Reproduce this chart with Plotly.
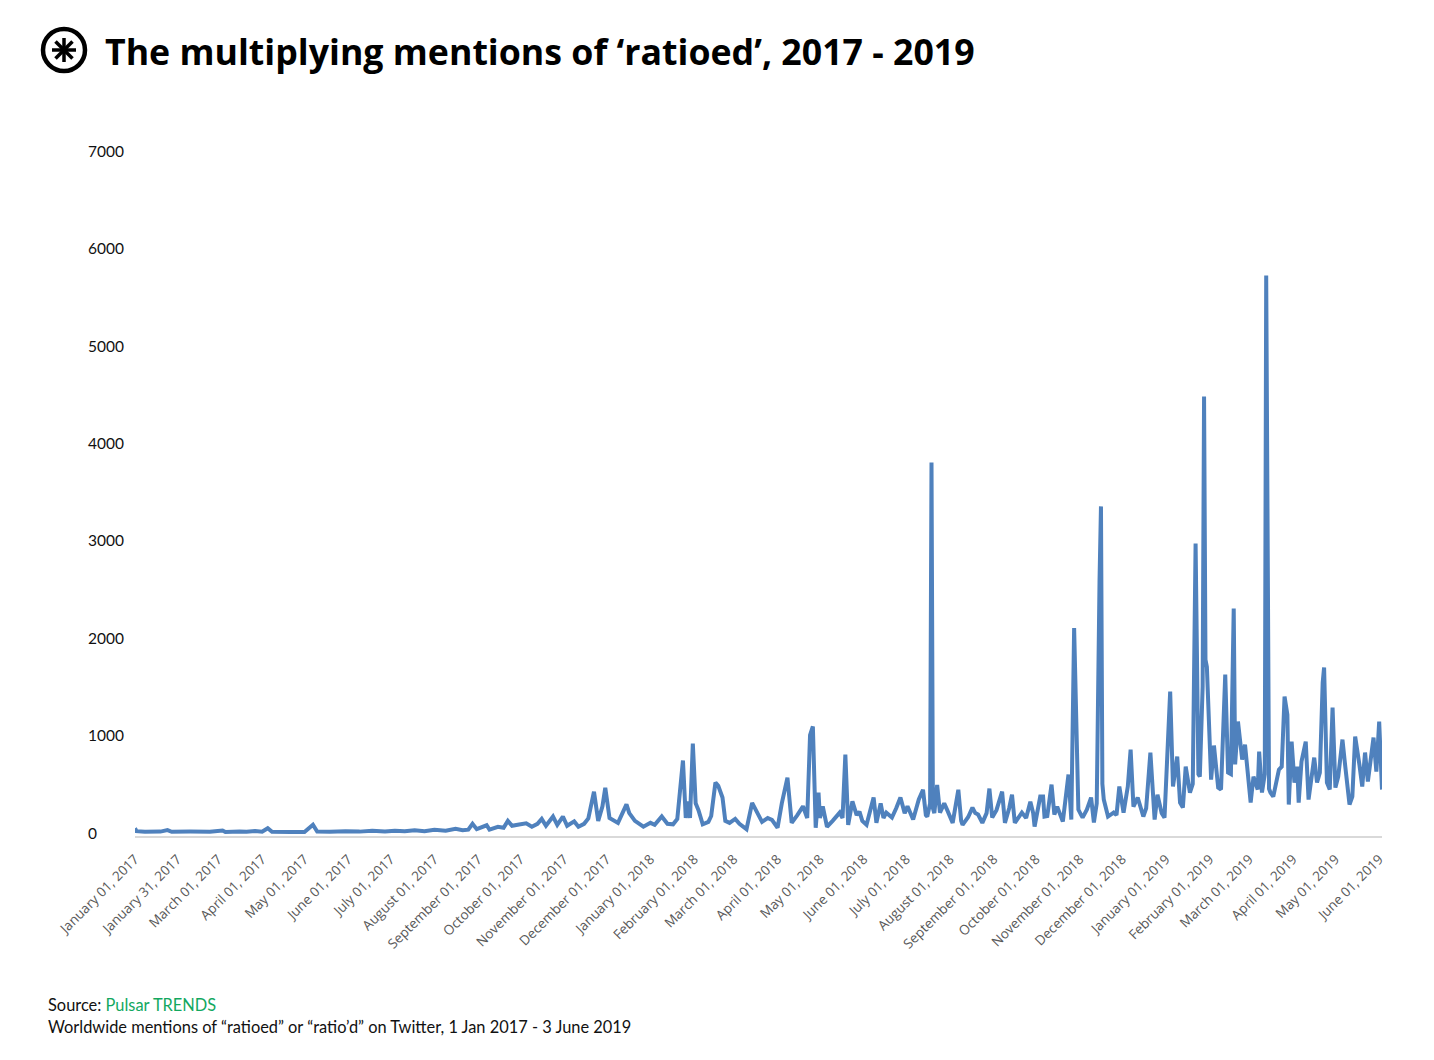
import math
import pandas as pd
import plotly.graph_objects as go

# ---- data ----
# day offset from 1 Jan 2017 and daily mentions
day_offsets = [
    0, 1, 7, 18, 23, 26, 39, 53, 62, 64, 74, 79, 85, 90, 94, 97, 110, 120, 126, 129,
    138, 149, 159, 168, 177, 184, 191, 198, 205, 212, 220, 227, 232, 236, 239, 242,
    249, 251, 257, 261, 264, 267, 271, 277, 281, 285, 288, 291, 296, 299, 303, 306,
    311, 314, 318, 321, 325, 328, 331, 333, 336, 342, 348, 350, 354, 360, 365, 368,
    373, 377, 381, 384, 388, 390, 392, 393, 395, 397, 399, 402, 406, 408, 411, 413,
    416, 418, 421, 425, 428, 433, 437, 439, 441, 444, 448, 451, 455, 458, 462, 464,
    465, 469, 473, 476, 478, 480, 482, 484, 485, 487, 490, 494, 499, 501, 503, 505,
    508, 511, 513, 515, 518, 523, 525, 528, 530, 532, 536, 539, 542, 545, 547, 551,
    555, 558, 560, 561, 563, 564, 565, 566, 568, 570, 573, 575, 579, 583, 585, 586,
    590, 593, 595, 597, 600, 603, 605, 607, 610, 614, 616, 619, 621, 623, 626, 628,
    631, 634, 636, 637, 641, 643, 644, 646, 649, 651, 653, 655, 657, 661, 663, 665,
    668, 670, 671, 674, 677, 679, 681, 683, 684, 685, 686, 689, 693, 695, 697, 700,
    703, 705, 707, 710, 714, 716, 719, 722, 724, 727, 729, 733, 735, 738, 740, 742,
    744, 747, 749, 751, 753, 754, 756, 757, 758, 759, 762, 764, 767, 769, 772, 774,
    776, 778, 779, 781, 784, 786, 790, 792, 795, 796, 798, 800, 801, 803, 804, 806,
    810, 812, 814, 816, 817, 819, 821, 823, 824, 826, 829, 831, 835, 837, 839, 841,
    842, 844, 846, 848, 850, 852, 855, 857, 860, 862, 864, 867, 869, 871, 873, 877,
    879, 881, 883,
]
mentions = [
    45, 15, 8, 10, 25, 8, 10, 8, 22, 6, 12, 8, 15, 8, 45, 8, 5, 6, 80, 10,
    8, 15, 10, 20, 12, 20, 15, 25, 15, 30, 20, 40, 25, 30, 90, 35,
    75, 30, 60, 50, 120, 70, 80, 95, 60, 90, 140, 70, 165, 80, 165, 70,
    115, 60, 90, 145, 420, 120, 270, 460, 150, 100, 290, 200, 120, 60, 100, 80,
    165, 90, 85, 140, 740, 150, 320, 150, 914, 300, 230, 85, 110, 170, 514, 480,
    360, 120, 100, 140, 90, 35, 305, 250, 185, 110, 150, 130, 50, 300, 565, 200,
    100, 180, 270, 150, 1000, 1090, 50, 410, 150, 270, 60, 120, 205, 150, 800, 80,
    320, 180, 215, 120, 80, 360, 100, 300, 150, 205, 155, 250, 360, 200, 270, 135,
    340, 440, 180, 165, 300, 3800, 250, 200, 490, 205, 300, 236, 100, 440, 120, 80,
    160, 257, 200, 185, 100, 200, 452, 155, 230, 421, 100, 250, 390, 100, 170, 205,
    150, 318, 200, 62, 370, 370, 165, 170, 493, 185, 267, 200, 113, 596, 134, 2100,
    236, 180, 154, 236, 360, 103, 300, 2600, 3350, 500, 339, 165, 205, 180, 473, 205,
    473, 853, 267, 360, 165, 250, 822, 134, 390, 200, 154, 1449, 473, 781, 308, 257,
    678, 411, 500, 2968, 600, 575, 1500, 4478, 1777, 1700, 544, 894, 462, 442, 1623, 616,
    600, 2300, 700, 1140, 750, 904, 308, 575, 442, 832, 411, 600, 5720, 450, 411, 370,
    647, 678, 1397, 1212, 288, 935, 514, 678, 308, 730, 935, 339, 770, 514, 616, 1541,
    1695, 514, 442, 1284, 462, 575, 955, 678, 288, 370, 986, 698, 473, 822, 524, 976,
    627, 1140, 442,
]

tick_dates = [
    "2017-01-01", "2017-01-31", "2017-03-01", "2017-04-01", "2017-05-01", "2017-06-01",
    "2017-07-01", "2017-08-01", "2017-09-01", "2017-10-01", "2017-11-01", "2017-12-01",
    "2018-01-01", "2018-02-01", "2018-03-01", "2018-04-01", "2018-05-01", "2018-06-01",
    "2018-07-01", "2018-08-01", "2018-09-01", "2018-10-01", "2018-11-01", "2018-12-01",
    "2019-01-01", "2019-02-01", "2019-03-01", "2019-04-01", "2019-05-01", "2019-06-01",
]
y_ticks = [0, 1000, 2000, 3000, 4000, 5000, 6000, 7000]

title_text = "The multiplying mentions of ‘ratioed’, 2017 - 2019"
source_label = "Source: "
source_name = "Pulsar TRENDS"
note_text = "Worldwide mentions of “ratioed” or “ratio’d” on Twitter, 1 Jan 2017 - 3 June 2019"

# ---- figure ----
OFF = 8  # page body margin
W, H = 1434 - OFF, 1060 - OFF
L = 135 - OFF
T = 151 - OFF
R = W - (1382 - OFF)
B = H - (836 - OFF)
PW, PH = W - L - R, H - T - B


def px(xs):
    return (xs - OFF - L) / PW


def py(ys):
    return 1 - (ys - OFF - T) / PH


start = pd.Timestamp("2017-01-01")
dates = [start + pd.Timedelta(days=d) for d in day_offsets]
tick_vals = [pd.Timestamp(t) for t in tick_dates]
tick_text = [t.strftime("%B %d, %Y") for t in tick_vals]

fig = go.Figure()
fig.add_trace(go.Scatter(
    x=dates, y=mentions, mode="lines",
    line=dict(color="#4F81BD", width=4),
    hoverinfo="x+y",
))

annotations = []
for v in y_ticks:
    annotations.append(dict(
        x=px(86), xref="paper", y=v, yref="y", text=str(v), showarrow=False,
        xanchor="left", yanchor="middle",
        font=dict(family="Lato", size=15.5, color="#111111"),
    ))
annotations.append(dict(
    x=px(103), xref="paper", y=py(51), yref="paper", text="<b>" + title_text + "</b>",
    showarrow=False, xanchor="left", yanchor="middle",
    font=dict(family="Open Sans", size=35.7, color="#000000"),
))
annotations.append(dict(
    x=px(46), xref="paper", y=py(1004), yref="paper",
    text=source_label + "<span style='color:#12A85F'>" + source_name + "</span>",
    showarrow=False, xanchor="left", yanchor="middle",
    font=dict(family="Lato", size=16.4, color="#111111"),
))
annotations.append(dict(
    x=px(46), xref="paper", y=py(1026), yref="paper", text=note_text,
    showarrow=False, xanchor="left", yanchor="middle",
    font=dict(family="Lato", size=16.4, color="#111111"),
))

# logo: circle with asterisk
cx, cy, rad = 64, 50, 21
shapes = [dict(
    type="circle", xref="paper", yref="paper",
    x0=px(cx - rad), x1=px(cx + rad), y0=py(cy + rad), y1=py(cy - rad),
    line=dict(color="#000000", width=4.5),
)]
arm = 12
for ang in [90, 45, 0, -45]:
    dx = arm * math.cos(math.radians(ang))
    dy = arm * math.sin(math.radians(ang))
    shapes.append(dict(
        type="line", xref="paper", yref="paper",
        x0=px(cx - dx), x1=px(cx + dx), y0=py(cy + dy), y1=py(cy - dy),
        line=dict(color="#000000", width=3.5),
    ))

fig.update_layout(
    width=W, height=H,
    margin=dict(l=L, r=R, t=T, b=B, pad=0),
    paper_bgcolor="#FFFFFF", plot_bgcolor="#FFFFFF",
    showlegend=False,
    annotations=annotations,
    shapes=shapes,
    xaxis=dict(
        type="date",
        range=[start, start + pd.Timedelta(days=883)],
        tickmode="array", tickvals=tick_vals, ticktext=tick_text,
        tickangle=-45,
        tickfont=dict(family="Open Sans", size=13.5, color="#595959"),
        ticklabelstandoff=8,
        showgrid=False, zeroline=False,
        showline=True, linecolor="#D9D9D9", linewidth=2,
        ticks="", ticklen=0,
    ),
    yaxis=dict(
        range=[-35, 7000],
        showticklabels=False, showgrid=False, zeroline=False, showline=False,
        ticks="",
    ),
)

fig.write_html("out.html")
